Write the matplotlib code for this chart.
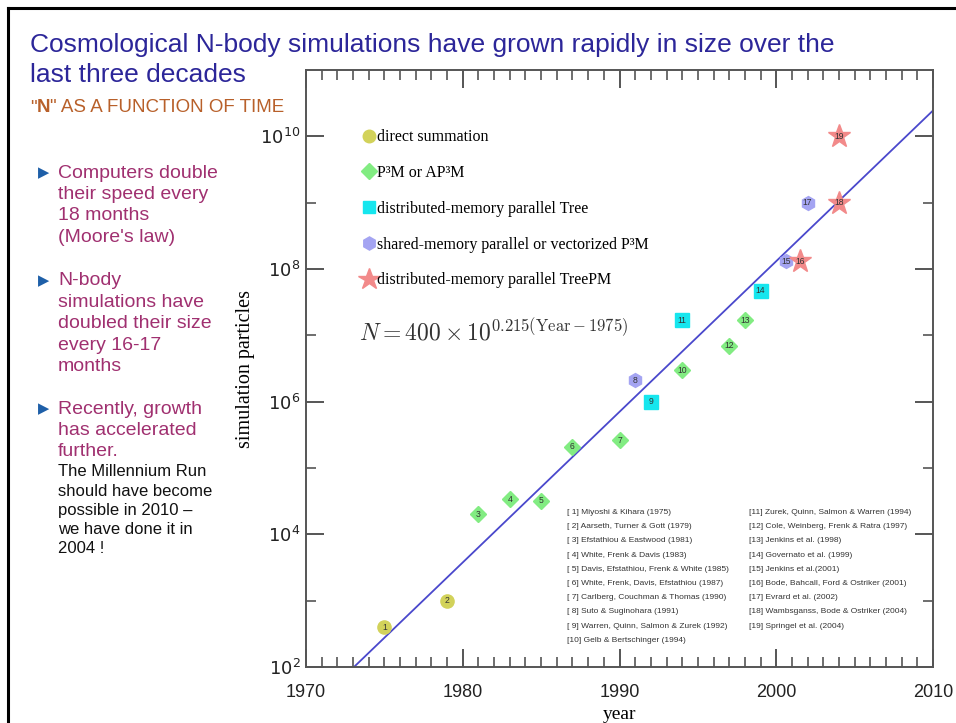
import matplotlib
matplotlib.use("Agg")
import matplotlib.pyplot as plt
from matplotlib.lines import Line2D
import numpy as np

# --- data ---
ref_num = [str(i) for i in range(1, 20)]
years = [1975, 1979, 1981, 1983, 1985, 1987, 1990, 1991, 1992, 1994,
         1994, 1997, 1998, 1999, 2000.6, 2001.5, 2002, 2004, 2004]
particles = [4.0e2, 1.0e3, 2.0e4, 3.4e4, 3.2e4, 2.1e5, 2.6e5, 2.1e6, 1.0e6, 3.0e6,
             1.7e7, 7.0e6, 1.7e7, 4.7e7, 1.3e8, 1.3e8, 1.0e9, 1.0e9, 1.0e10]
method = ['direct', 'direct', 'p3m', 'p3m', 'p3m', 'p3m', 'p3m', 'shared', 'tree', 'p3m',
          'tree', 'p3m', 'p3m', 'tree', 'shared', 'treepm', 'shared', 'treepm', 'treepm']

method_names = ['direct', 'p3m', 'tree', 'shared', 'treepm']
method_labels = ['direct summation', 'P³M or AP³M', 'distributed-memory parallel Tree',
                 'shared-memory parallel or vectorized P³M', 'distributed-memory parallel TreePM']

fit_years = [1973.06, 2010]
fit_N = [1.0e2, 2.45e10]

references = ['[ 1] Miyoshi & Kihara (1975)', '[ 2] Aarseth, Turner & Gott (1979)',
              '[ 3] Efstathiou & Eastwood (1981)', '[ 4] White, Frenk & Davis (1983)',
              '[ 5] Davis, Efstathiou, Frenk & White (1985)', '[ 6] White, Frenk, Davis, Efstathiou (1987)',
              '[ 7] Carlberg, Couchman & Thomas (1990)', '[ 8] Suto & Suginohara (1991)',
              '[ 9] Warren, Quinn, Salmon & Zurek (1992)', '[10] Gelb & Bertschinger (1994)',
              '[11] Zurek, Quinn, Salmon & Warren (1994)', '[12] Cole, Weinberg, Frenk & Ratra (1997)',
              '[13] Jenkins et al. (1998)', '[14] Governato et al. (1999)',
              '[15] Jenkins et al.(2001)', '[16] Bode, Bahcall, Ford & Ostriker (2001)',
              '[17] Evrard et al. (2002)', '[18] Wambsganss, Bode & Ostriker (2004)',
              '[19] Springel et al. (2004)']

bullets = [['Computers double', 'their speed every', '18 months', "(Moore's law)"],
           ['N-body', 'simulations have', 'doubled their size', 'every 16-17', 'months'],
           ['Recently, growth', 'has accelerated', 'further.']]
note = ['The Millennium Run', 'should have become', 'possible in 2010 \u2013',
        'we have done it in', '2004 !']

# styles
style = {
    'direct': dict(marker='o', color='#d2d25a', ms=9.5),
    'p3m': dict(marker='D', color='#82ec82', ms=8.5),
    'tree': dict(marker='s', color='#16e6ee', ms=9.5),
    'shared': dict(marker='h', color='#a4a4f2', ms=10),
    'treepm': dict(marker='*', color='#f28a8a', ms=17),
}

W, H = 956, 723
fig = plt.figure(figsize=(W / 100, H / 100), dpi=100)
fig.patch.set_facecolor('white')

def fx(px):
    return px / W

def fy(py):
    return 1 - py / H

ax = fig.add_axes([fx(306), fy(667), fx(933) - fx(306), fy(70) - fy(667)])
ax.set_yscale('log')
ax.set_xlim(1970, 2010)
ax.set_ylim(1e2, 1e11)

ax.plot(fit_years, fit_N, color='#4a48cc', lw=1.3, zorder=2)

for y, n, m, lab in zip(years, particles, method, ref_num):
    s = style[m]
    ax.plot(y, n, linestyle='none', marker=s['marker'], ms=s['ms'],
            mfc=s['color'], mec=s['color'], zorder=3)
    ax.text(y, n, lab, fontsize=6.2, color='#333333', ha='center', va='center',
            family='Liberation Sans', zorder=4)

# axes styling
for sp in ax.spines.values():
    sp.set_color('#555555')
    sp.set_linewidth(1.4)
ax.set_xticks([1970, 1980, 1990, 2000, 2010])
ax.set_xticks(np.arange(1970, 2011, 1), minor=True)
ax.set_yticks([1e2, 1e4, 1e6, 1e8, 1e10])
ax.set_yticklabels([r'$10^{2}$', r'$10^{4}$', r'$10^{6}$', r'$10^{8}$', r'$10^{10}$'])
ax.set_yticks([1e3, 1e5, 1e7, 1e9], minor=True)
ax.yaxis.set_minor_formatter(matplotlib.ticker.NullFormatter())
ax.tick_params(which='major', direction='in', length=13, width=1.4, color='#555555',
               top=True, right=True, labelsize=13, pad=12)
ax.tick_params(which='minor', direction='in', length=7, width=1.2, color='#555555',
               top=True, right=True)
ax.tick_params(axis='y', which='major', pad=4)
for t in ax.get_xticklabels() + ax.get_yticklabels():
    t.set_family('Liberation Sans')
    t.set_color('#222222')
for t in ax.get_yticklabels():
    t.set_math_fontfamily('custom')

ax.set_xlabel('year', family='Liberation Serif', fontsize=14, labelpad=4)
ax.set_ylabel('simulation particles', family='Liberation Serif', fontsize=14.5, labelpad=4)

# legend
handles = [Line2D([], [], linestyle='none', marker=style[m]['marker'],
                  ms=style[m]['ms'] * 0.95, mfc=style[m]['color'], mec=style[m]['color'])
           for m in method_names]
leg = ax.legend(handles, method_labels, loc='upper left', bbox_to_anchor=(0.07, 0.925),
                frameon=False, handlelength=0.6, handletextpad=0.2, labelspacing=1.24,
                prop={'family': 'Liberation Serif', 'size': 11.5})

ax.text(0.085, 0.56, r'$N = 400 \times 10^{0.215(\mathrm{Year}-1975)}$', transform=ax.transAxes,
        fontsize=17, color='#333333', math_fontfamily='cm', va='center')

# reference list, two columns
for i, r in enumerate(references):
    col, row = divmod(i, 10)
    ax.text([0.417, 0.706][col], 0.259 - row * 0.0238, r, transform=ax.transAxes,
            fontsize=6.0, family='Liberation Sans', color='#333333', va='center')

# slide texts
fig.text(fx(30), fy(45), 'Cosmological N-body simulations have grown rapidly in size over the',
         fontsize=19, color='#2c2699', family='Liberation Sans', va='center')
fig.text(fx(30), fy(75), 'last three decades',
         fontsize=19, color='#2c2699', family='Liberation Sans', va='center')

renderer = fig.canvas.get_renderer()
x0 = fx(30)
for piece, wt in [('"', 'normal'), ('N', 'bold'), ('" AS A FUNCTION OF TIME', 'normal')]:
    t = fig.text(x0, fy(108), piece, fontsize=13.5, color='#b8602a', weight=wt,
                 family='Liberation Sans', va='center')
    bb = t.get_window_extent(renderer)
    x0 += bb.width / W

tops = [173, 281, 409]
for top, lines in zip(tops, bullets):
    fig.text(fx(38), fy(top), '\u25b6', fontsize=10.5, color='#1e5fa8',
             family='DejaVu Sans', va='center')
    for k, line in enumerate(lines):
        fig.text(fx(58), fy(top + k * 21.4), line, fontsize=14, color='#a03070',
                 family='Liberation Sans', va='center')
for k, line in enumerate(note):
    fig.text(fx(58), fy(472 + k * 19.1), line, fontsize=12, color='#111111',
             family='Liberation Sans', va='center')

# slide border (left and top edges)
fig.add_artist(Line2D([fx(8), fx(8)], [0, fy(8)], color='black', lw=2.2))
fig.add_artist(Line2D([fx(8), 1], [fy(8), fy(8)], color='black', lw=2.2))

fig.savefig('out.png', dpi=100)
